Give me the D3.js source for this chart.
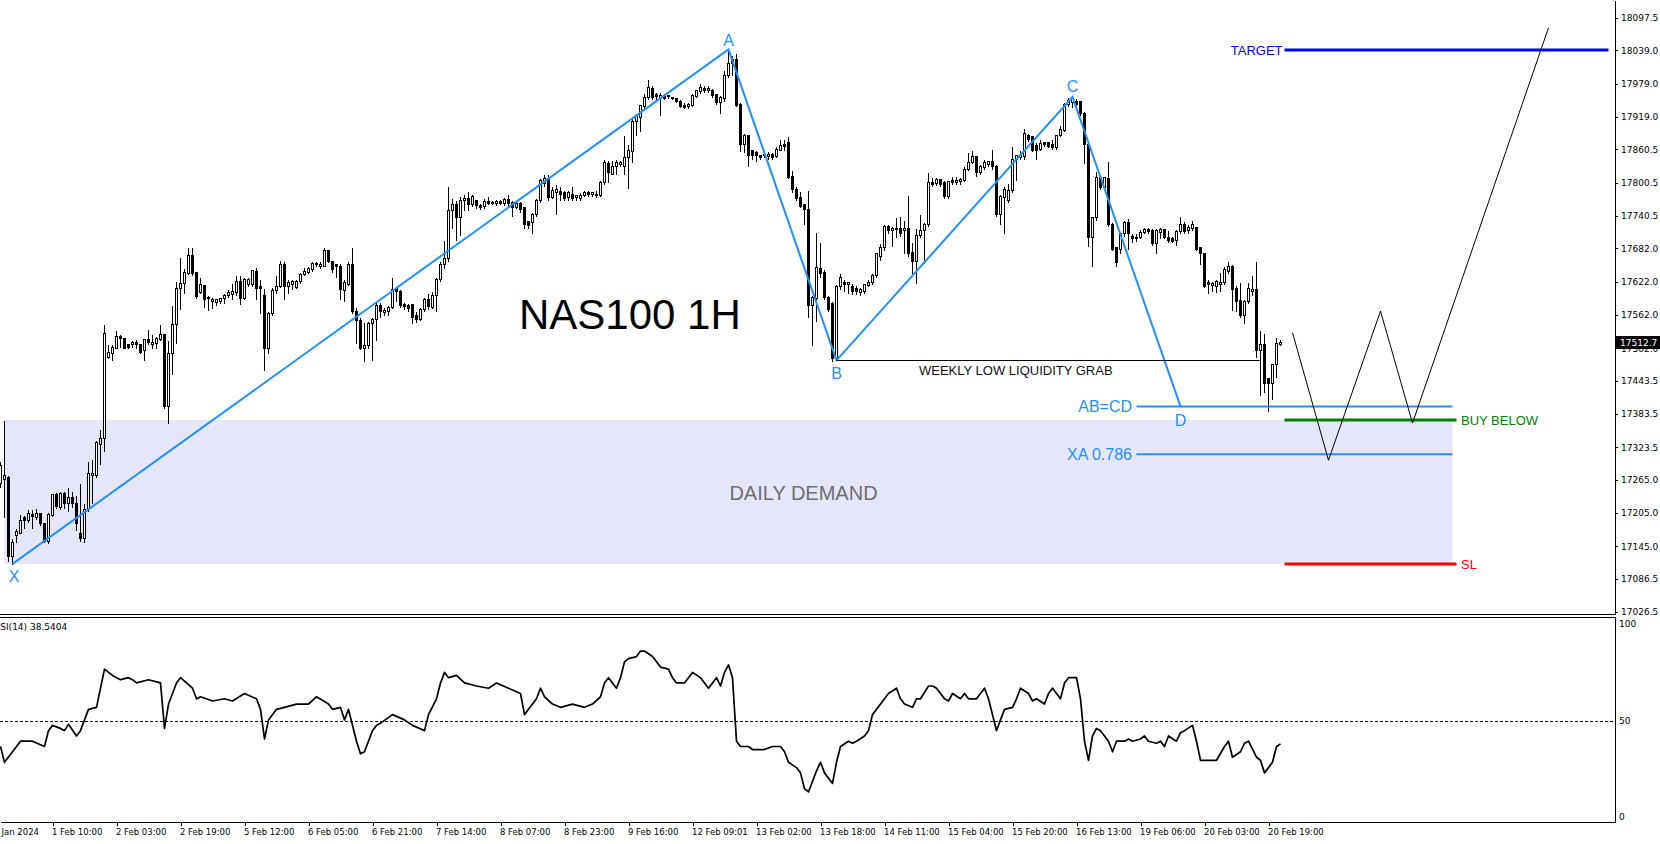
<!DOCTYPE html>
<html><head><meta charset="utf-8">
<script src="https://cdn.jsdelivr.net/npm/d3@7"></script>
<style>html,body{margin:0;padding:0;background:#fff;overflow:hidden}</style>
</head><body>
<svg id="c" width="1660" height="844"></svg>
<script>
// ---- NAS100 H1 candles (bar index 0..320) ----
const opens = [17259,17266,17269,17127,17166,17169,17198,17193,17203,17198,17204,17186,17155,17202,17239,17216,17241,17223,17234,17222,
17169,17160,17212,17273,17273,17330,17341,17487,17494,17503,17524,17521,17509,17509,17514,17510,17498,17519,17510,17512,
17519,17527,17398,17493,17546,17610,17619,17637,17671,17639,17603,17616,17594,17587,17586,17587,17593,17598,17600,17603,
17624,17593,17617,17617,17641,17614,17598,17502,17566,17607,17614,17653,17614,17617,17612,17623,17636,17639,17644,17655,
17650,17651,17679,17659,17653,17651,17607,17617,17653,17569,17553,17502,17507,17548,17555,17580,17567,17569,17576,17610,
17605,17581,17580,17581,17562,17555,17573,17591,17576,17598,17626,17653,17664,17751,17762,17739,17769,17773,17762,17769,
17760,17759,17767,17764,17764,17767,17764,17771,17766,17757,17764,17757,17731,17730,17744,17769,17800,17809,17774,17784,
17786,17784,17774,17781,17774,17773,17779,17784,17780,17781,17779,17801,17836,17817,17830,17834,17831,17846,17857,17912,
17919,17939,17955,17971,17960,17953,17957,17956,17955,17953,17948,17941,17939,17941,17957,17966,17971,17967,17967,17960,
17946,17953,17994,18017,18024,17943,17871,17886,17859,17855,17850,17850,17848,17853,17848,17860,17871,17874,17812,17789,
17774,17762,17753,17580,17593,17646,17639,17594,17584,17484,17614,17621,17617,17614,17610,17603,17605,17616,17621,17634,
17669,17684,17723,17716,17719,17719,17716,17719,17676,17659,17707,17716,17726,17801,17800,17807,17801,17776,17805,17801,
17803,17805,17826,17837,17848,17819,17829,17834,17839,17830,17744,17774,17769,17787,17843,17846,17848,17887,17884,17869,
17862,17874,17874,17871,17864,17886,17896,17943,17946,17948,17948,17926,17871,17703,17739,17810,17793,17809,17726,17684,
17681,17709,17729,17705,17700,17703,17712,17717,17716,17691,17712,17717,17703,17701,17698,17714,17726,17716,17719,17721,
17684,17673,17621,17616,17614,17617,17621,17641,17650,17610,17589,17562,17587,17605,17609,17498,17509,17448,17439,17473,
17510];
const highs = [17298,17372,17273,17159,17177,17203,17202,17212,17212,17214,17205,17187,17207,17241,17243,17244,17244,17252,17244,17237,
17259,17223,17298,17302,17337,17357,17546,17509,17509,17534,17527,17523,17512,17517,17519,17512,17521,17537,17527,17524,
17546,17530,17516,17580,17624,17666,17646,17684,17684,17639,17630,17617,17598,17594,17593,17594,17602,17609,17619,17634,
17634,17630,17631,17644,17648,17626,17610,17569,17612,17634,17662,17659,17626,17626,17626,17639,17648,17651,17659,17659,
17659,17684,17681,17662,17655,17655,17626,17659,17684,17576,17559,17550,17551,17559,17586,17586,17576,17580,17630,17612,
17609,17586,17584,17584,17569,17576,17594,17602,17605,17630,17659,17698,17794,17773,17769,17776,17780,17786,17780,17771,
17764,17773,17776,17769,17771,17771,17774,17780,17769,17769,17767,17759,17734,17748,17773,17809,17816,17816,17794,17798,
17794,17787,17787,17794,17781,17784,17787,17787,17786,17787,17805,17844,17841,17841,17844,17841,17887,17871,17917,17926,
17943,17962,17987,17976,17964,17964,17962,17960,17957,17955,17951,17946,17946,17962,17969,17980,17976,17976,17971,17962,
17959,18003,18041,18030,18034,17946,17891,17887,17862,17860,17853,17860,17857,17855,17866,17880,17879,17884,17824,17794,
17786,17764,17787,17598,17712,17694,17644,17598,17587,17617,17637,17626,17624,17619,17616,17612,17619,17626,17637,17676,
17691,17726,17726,17723,17739,17741,17734,17779,17694,17719,17744,17730,17819,17810,17810,17809,17805,17805,17812,17812,
17810,17830,17855,17859,17851,17834,17844,17841,17862,17834,17781,17794,17800,17866,17853,17859,17900,17891,17887,17874,
17879,17876,17876,17879,17887,17905,17946,17955,17959,17953,17950,17930,17874,17741,17821,17816,17812,17839,17730,17687,
17712,17734,17737,17710,17709,17717,17721,17721,17719,17719,17721,17719,17716,17705,17717,17741,17731,17726,17734,17723,
17687,17674,17626,17623,17626,17639,17651,17659,17653,17616,17621,17591,17621,17634,17659,17534,17530,17448,17476,17523,
17519];
const lows = [17252,17198,17119,17112,17153,17169,17177,17189,17177,17194,17184,17153,17150,17200,17214,17212,17214,17209,17216,17174,
17155,17152,17209,17223,17269,17294,17317,17484,17481,17502,17505,17502,17502,17505,17502,17494,17480,17509,17502,17502,
17516,17394,17367,17455,17512,17573,17602,17636,17634,17593,17602,17576,17571,17574,17580,17584,17584,17594,17591,17598,
17581,17591,17614,17614,17591,17566,17462,17494,17562,17602,17612,17591,17602,17609,17610,17619,17634,17637,17641,17650,
17646,17650,17657,17639,17630,17591,17587,17616,17566,17512,17500,17479,17502,17480,17517,17559,17562,17562,17574,17587,
17576,17573,17569,17548,17550,17553,17569,17573,17574,17569,17623,17646,17659,17719,17698,17707,17751,17751,17759,17755,
17753,17755,17762,17762,17761,17762,17760,17759,17741,17755,17748,17719,17719,17710,17741,17766,17794,17769,17773,17744,
17769,17769,17769,17769,17769,17769,17776,17776,17776,17774,17776,17798,17801,17816,17816,17830,17816,17791,17837,17887,
17894,17936,17951,17951,17948,17923,17951,17953,17951,17946,17937,17936,17936,17939,17955,17962,17964,17964,17955,17943,
17926,17948,17991,17994,17939,17857,17855,17831,17844,17839,17843,17846,17844,17844,17846,17859,17860,17809,17784,17769,
17757,17726,17559,17507,17551,17630,17591,17569,17479,17480,17609,17605,17602,17600,17600,17598,17601,17614,17617,17630,
17662,17680,17709,17687,17702,17705,17673,17669,17637,17619,17702,17655,17723,17794,17796,17794,17773,17773,17798,17798,
17798,17803,17824,17836,17812,17816,17826,17830,17826,17741,17726,17710,17766,17784,17805,17844,17844,17876,17857,17843,
17859,17867,17864,17862,17862,17884,17893,17939,17937,17941,17923,17836,17686,17650,17734,17789,17789,17723,17680,17650,
17673,17705,17681,17694,17696,17700,17709,17709,17689,17673,17701,17700,17693,17693,17689,17710,17710,17709,17716,17679,
17653,17612,17601,17605,17603,17605,17617,17637,17571,17569,17559,17548,17584,17598,17487,17417,17423,17389,17410,17450,
17507];
const closes = [17291,17273,17127,17152,17173,17193,17193,17204,17200,17205,17186,17155,17203,17239,17217,17241,17223,17234,17222,17187,
17159,17212,17277,17277,17332,17341,17530,17496,17505,17524,17521,17503,17505,17514,17509,17496,17519,17514,17514,17521,
17527,17398,17494,17546,17610,17619,17639,17671,17637,17596,17617,17591,17593,17591,17591,17593,17598,17603,17605,17624,
17593,17626,17626,17643,17610,17610,17502,17566,17607,17614,17653,17614,17621,17623,17623,17636,17641,17646,17655,17653,
17653,17679,17659,17644,17650,17609,17621,17653,17569,17553,17502,17507,17548,17555,17580,17569,17571,17576,17609,17605,
17580,17579,17574,17559,17555,17573,17591,17579,17598,17626,17653,17664,17751,17762,17739,17769,17773,17762,17776,17760,
17757,17767,17764,17766,17767,17764,17771,17764,17757,17764,17753,17726,17724,17744,17769,17805,17809,17774,17787,17789,
17781,17773,17784,17773,17779,17779,17784,17780,17784,17779,17801,17837,17819,17831,17837,17837,17846,17860,17912,17923,
17941,17955,17973,17955,17957,17959,17954,17959,17953,17948,17939,17937,17943,17959,17967,17973,17967,17971,17959,17946,
17955,17994,18017,18024,17941,17871,17886,17850,17850,17850,17846,17853,17853,17846,17862,17869,17867,17810,17789,17773,
17759,17753,17580,17594,17648,17637,17594,17573,17484,17614,17630,17617,17621,17605,17605,17609,17617,17621,17634,17673,
17684,17723,17716,17719,17717,17709,17719,17673,17659,17707,17716,17726,17801,17798,17807,17798,17776,17803,17801,17805,
17807,17826,17837,17848,17819,17830,17837,17839,17830,17744,17776,17789,17787,17844,17850,17851,17891,17880,17860,17860,
17873,17871,17867,17864,17886,17898,17943,17950,17953,17943,17926,17871,17703,17739,17810,17793,17810,17726,17681,17657,
17709,17729,17709,17701,17703,17712,17717,17714,17691,17716,17717,17703,17698,17696,17714,17726,17714,17721,17726,17681,
17673,17614,17617,17619,17623,17621,17644,17651,17609,17587,17562,17587,17610,17609,17498,17509,17439,17439,17473,17512,
17512.7];

// ---- price axis ----
const priceTicks = [18097.5,18039.0,17979.0,17919.0,17860.5,17800.5,17740.5,17682.0,17622.0,17562.0,17502.0,17443.5,17383.5,17323.5,17265.0,17205.0,17145.0,17086.5,17026.5];
const lastPrice = 17512.7;

// ---- time axis ----
const dateBars = [-3,13,29,45,61,77,93,109,125,141,157,173,189,205,221,237,253,269,285,301,317];
const dateLabels = ["31 Jan 2024","1 Feb 10:00","2 Feb 03:00","2 Feb 19:00","5 Feb 12:00","6 Feb 05:00","6 Feb 21:00","7 Feb 14:00","8 Feb 07:00","8 Feb 23:00","9 Feb 16:00","12 Feb 09:01","13 Feb 02:00","13 Feb 18:00","14 Feb 11:00","15 Feb 04:00","15 Feb 20:00","16 Feb 13:00","19 Feb 06:00","20 Feb 03:00","20 Feb 19:00"];

// ---- RSI(14) ----
const rsiBars = [0,1,3,5,8,11,12,13,15,16,17,19,20,21,22,24,25,26,28,29,30,32,33,34,37,40,41,42,44,45,48,49,50,53,56,58,61,64,65,66,67,69,71,74,77,79,82,83,85,86,87,89,90,91,93,94,95,98,101,103,106,107,109,110,111,112,114,116,119,122,124,127,130,131,132,134,135,136,138,140,143,146,148,150,151,152,154,155,156,157,159,160,161,163,164,165,167,168,169,171,172,173,175,176,177,179,180,181,182,183,184,185,187,188,191,193,195,196,197,199,200,201,202,204,205,206,208,209,210,212,213,214,216,217,218,220,221,222,224,225,226,228,229,230,232,233,234,236,237,238,240,241,242,244,245,246,247,249,250,251,253,254,255,257,258,259,261,262,263,265,266,267,269,270,271,272,273,274,275,277,278,279,281,282,283,285,286,287,289,290,291,292,294,295,296,298,299,300,302,303,304,306,307,308,310,311,312,314,315,316,318,319,320];
const rsiValues = [37.2,29.4,34.6,39.8,39.8,37.2,45.0,47.6,46.1,45.0,48.2,42.4,45.0,50.3,55.5,56.5,65.9,75.3,72.2,71.1,70.1,71.1,70.1,68.5,70.1,68.5,46.1,58.1,68.5,71.1,65.9,60.7,61.7,59.6,60.7,59.6,63.3,60.7,55.5,40.9,50.3,55.5,56.5,58.1,58.1,61.7,58.1,55.5,56.5,50.3,55.5,39.8,33.6,34.6,45.0,47.6,48.7,52.9,50.3,47.6,45.0,52.9,60.7,68.5,73.7,71.1,72.2,68.5,67.0,65.9,68.5,65.9,63.3,52.9,55.5,60.7,65.9,61.7,58.1,56.5,58.1,56.5,58.1,61.7,68.5,71.1,65.9,71.1,78.9,80.5,81.5,84.2,84.2,81.5,78.9,76.3,75.3,71.1,68.5,68.5,71.1,73.7,71.1,68.5,65.9,71.1,67.0,73.7,77.4,71.1,39.8,37.2,37.2,35.7,35.7,37.2,37.2,34.6,29.4,26.8,24.2,16.4,14.8,25.2,29.4,24.2,19.0,29.4,37.2,39.8,38.8,39.8,42.4,45.0,52.9,58.1,60.7,63.3,65.9,60.7,58.1,56.5,60.7,60.7,67.0,67.0,65.9,60.7,59.6,63.3,60.7,63.3,60.7,60.7,63.3,65.9,60.7,45.0,50.3,55.5,56.5,60.7,65.9,63.3,59.6,60.7,58.1,63.3,65.9,60.7,68.5,71.1,71.1,60.7,39.8,30.4,42.4,46.1,45.0,39.8,34.6,39.8,39.8,40.9,39.8,40.9,42.4,39.8,38.8,39.8,37.2,42.4,39.8,44.0,45.0,47.6,39.8,30.4,30.4,30.4,30.4,37.2,39.8,31.9,34.6,38.8,39.8,31.9,30.4,24.2,29.4,37.2,38.5];
const rsiLabel = "RSI(14) 38.5404";
const rsiLevels = [100, 50, 0];

// ---- harmonic pattern & levels ----
const patternNames = ["X","A","B","C","D"];
const patternBars = [3,182,209,268,295];
const patternPrices = [17113,18041,17480,17955,17397];
const projectionBars = [323,332,345,353,387];
const projectionPrices = [17530,17300,17569,17367,18080];
const targetPrice = 18040, abcdPrice = 17397, xa786Price = 17311, buyBelowPrice = 17372.5, slPrice = 17113, weeklyLowPrice = 17480;
const demandTop = 17372.5, demandBottom = 17113;

// ================= drawing =================
const W = 1660, H = 844, axisX = 1615, mainBottom = 614;
const svg = d3.select("#c");
svg.append("rect").attr("width", W).attr("height", H).attr("fill", "#fff");

const x = d3.scaleLinear().domain([0, 403.625]).range([0.5, axisX]);
const y = d3.scaleLinear().domain([17022.7, 18130]).range([mainBottom, 0]);
const yR = d3.scaleLinear().domain([0, 100]).range([822, 619]);
const px = v => Math.round(v) + 0.5;

const defs = svg.append("defs");
defs.append("clipPath").attr("id", "cm").append("rect").attr("x", 0).attr("y", 0).attr("width", axisX).attr("height", mainBottom);
defs.append("clipPath").attr("id", "cr").append("rect").attr("x", 0).attr("y", 618).attr("width", axisX).attr("height", 204);

const main = svg.append("g").attr("clip-path", "url(#cm)");
const ANNO = "'Liberation Sans', Arial, sans-serif";
const AXF = "'DejaVu Sans', Tahoma, sans-serif";
const BLUE = "#1e90ff";

// demand zone
main.append("rect")
  .attr("x", x(1)).attr("y", y(demandTop))
  .attr("width", x(363) - x(1)).attr("height", y(demandBottom) - y(demandTop))
  .attr("fill", "#e6e6fa");

// candles
const idx = d3.range(closes.length);
const cg = main.append("g").attr("shape-rendering", "crispEdges");
cg.selectAll("line.w").data(idx).join("line").attr("class", "w")
  .attr("x1", i => x(i)).attr("x2", i => x(i))
  .attr("y1", i => px(y(highs[i]))).attr("y2", i => px(y(lows[i])) )
  .attr("stroke", "#000").attr("stroke-width", 1);
cg.selectAll("rect.b").data(idx).join("rect").attr("class", "b")
  .attr("x", i => x(i) - 1).attr("width", 2)
  .attr("y", i => px(y(Math.max(opens[i], closes[i]))))
  .attr("height", i => Math.max(0, px(y(Math.min(opens[i], closes[i]))) - px(y(Math.max(opens[i], closes[i])))))
  .attr("fill", i => closes[i] >= opens[i] ? "#fff" : "#000")
  .attr("stroke", "#000").attr("stroke-width", 1);

// pattern lines
const line = d3.line().x(d => x(d[0])).y(d => y(d[1]));
main.append("path").datum(patternBars.map((b, k) => [b, patternPrices[k]]))
  .attr("d", line).attr("fill", "none").attr("stroke", BLUE).attr("stroke-width", 2);

// weekly low line
main.append("line").attr("x1", x(209)).attr("x2", x(315)).attr("y1", px(y(weeklyLowPrice))).attr("y2", px(y(weeklyLowPrice)))
  .attr("stroke", "#000").attr("stroke-width", 1);

// horizontal levels
function hline(p, b0, b1, color, w) {
  main.append("line").attr("x1", x(b0)).attr("x2", x(b1)).attr("y1", y(p)).attr("y2", y(p))
    .attr("stroke", color).attr("stroke-width", w);
}
hline(abcdPrice, 284, 363, BLUE, 2);
hline(xa786Price, 284, 363, BLUE, 2);
hline(buyBelowPrice, 321, 364, "#008000", 3);
hline(slPrice, 321, 364, "#ff0000", 3);
hline(targetPrice, 321, 402, "#0000ff", 3);

// projection path
main.append("path").datum(projectionBars.map((b, k) => [b, projectionPrices[k]]))
  .attr("d", line).attr("fill", "none").attr("stroke", "#000").attr("stroke-width", 1);

// texts
function txt(t, xx, yy, size, color, anchor) {
  return main.append("text").attr("x", xx).attr("y", yy).attr("dy", "0.36em").text(t)
    .attr("font-family", ANNO).attr("font-size", size).attr("fill", color).attr("text-anchor", anchor || "start");
}
txt("NAS100 1H", 519, 314, 42, "#000");
txt("DAILY DEMAND", 803.5, (y(demandTop) + y(demandBottom)) / 2 + 1, 20, "#6e6e6e", "middle");
txt("WEEKLY LOW LIQUIDITY GRAB", 919, y(weeklyLowPrice) + 9.5, 13, "#111");
txt("AB=CD", x(284) - 4.5, y(abcdPrice), 16, BLUE, "end");
txt("XA 0.786", x(284) - 4.5, y(xa786Price), 16, BLUE, "end");
txt("TARGET", x(321) - 2, y(targetPrice), 13, "#0000ff", "end");
txt("BUY BELOW", x(364) + 4.5, y(buyBelowPrice), 13, "#008000");
txt("SL", x(364) + 4.5, y(slPrice), 13, "#ff0000");
const labelOff = [12.5, -9.5, 12.5, -10.5, 13.5];
patternNames.forEach((n, k) => {
  txt(n, x(patternBars[k]) + (k === 0 ? 1.5 : 0), y(patternPrices[k]) + labelOff[k], 16, BLUE, "middle");
});

// panel borders
const fr = svg.append("g").attr("shape-rendering", "crispEdges");
fr.append("line").attr("x1", 0).attr("x2", axisX).attr("y1", 614.5).attr("y2", 614.5).attr("stroke", "#000");
fr.append("line").attr("x1", 0).attr("x2", axisX).attr("y1", 617.5).attr("y2", 617.5).attr("stroke", "#000");

// price axis
const ay = svg.append("g").attr("transform", `translate(${axisX},0)`)
  .call(d3.axisRight(y).tickValues(priceTicks).tickFormat(d3.format(".1f")).tickSize(3).tickSizeOuter(0).tickPadding(3));
ay.select(".domain").attr("stroke", "#000");
ay.selectAll("text").attr("font-family", AXF).attr("font-size", 9).attr("fill", "#000");
ay.attr("shape-rendering", "crispEdges");

// current price box
svg.append("rect").attr("x", axisX + 1).attr("y", Math.round(y(lastPrice)) - 6).attr("width", 44).attr("height", 13).attr("fill", "#000");
svg.append("text").attr("x", axisX + 5).attr("y", Math.round(y(lastPrice)) + 0.5).attr("dy", "0.36em")
  .text(lastPrice.toFixed(1)).attr("font-family", AXF).attr("font-size", 9).attr("fill", "#fff");

// RSI panel
const rg = svg.append("g").attr("clip-path", "url(#cr)");
rg.append("line").attr("x1", 0).attr("x2", axisX).attr("y1", px(yR(50))).attr("y2", px(yR(50)))
  .attr("stroke", "#000").attr("stroke-dasharray", "3,2").attr("shape-rendering", "crispEdges");
rg.append("path").datum(rsiBars.map((b, k) => [b, rsiValues[k]]))
  .attr("d", d3.line().x(d => x(d[0])).y(d => yR(d[1])))
  .attr("fill", "none").attr("stroke", "#000").attr("stroke-width", 1.7).attr("stroke-linejoin", "round");
svg.append("text").attr("x", -6).attr("y", 630).text(rsiLabel)
  .attr("font-family", AXF).attr("font-size", 9).attr("fill", "#000");
svg.append("line").attr("x1", axisX + 0.5).attr("x2", axisX + 0.5).attr("y1", 617).attr("y2", 823).attr("stroke", "#000");
rsiLevels.forEach(v => {
  const yy = v === 100 ? 624 : v === 0 ? 817 : yR(v);
  svg.append("text").attr("x", axisX + 4).attr("y", yy).attr("dy", "0.36em").text(v)
    .attr("font-family", AXF).attr("font-size", 9).attr("fill", "#000");
});

// time axis
const ax = svg.append("g").attr("transform", "translate(0,822)")
  .call(d3.axisBottom(x).tickValues(dateBars).tickFormat((d, k) => dateLabels[k]).tickSize(4).tickSizeOuter(0).tickPadding(3));
ax.attr("shape-rendering", "crispEdges");
ax.selectAll("text").attr("text-anchor", "start").attr("x", -1)
  .attr("font-family", AXF).attr("font-size", 8.5).attr("fill", "#000");
</script>
</body></html>
